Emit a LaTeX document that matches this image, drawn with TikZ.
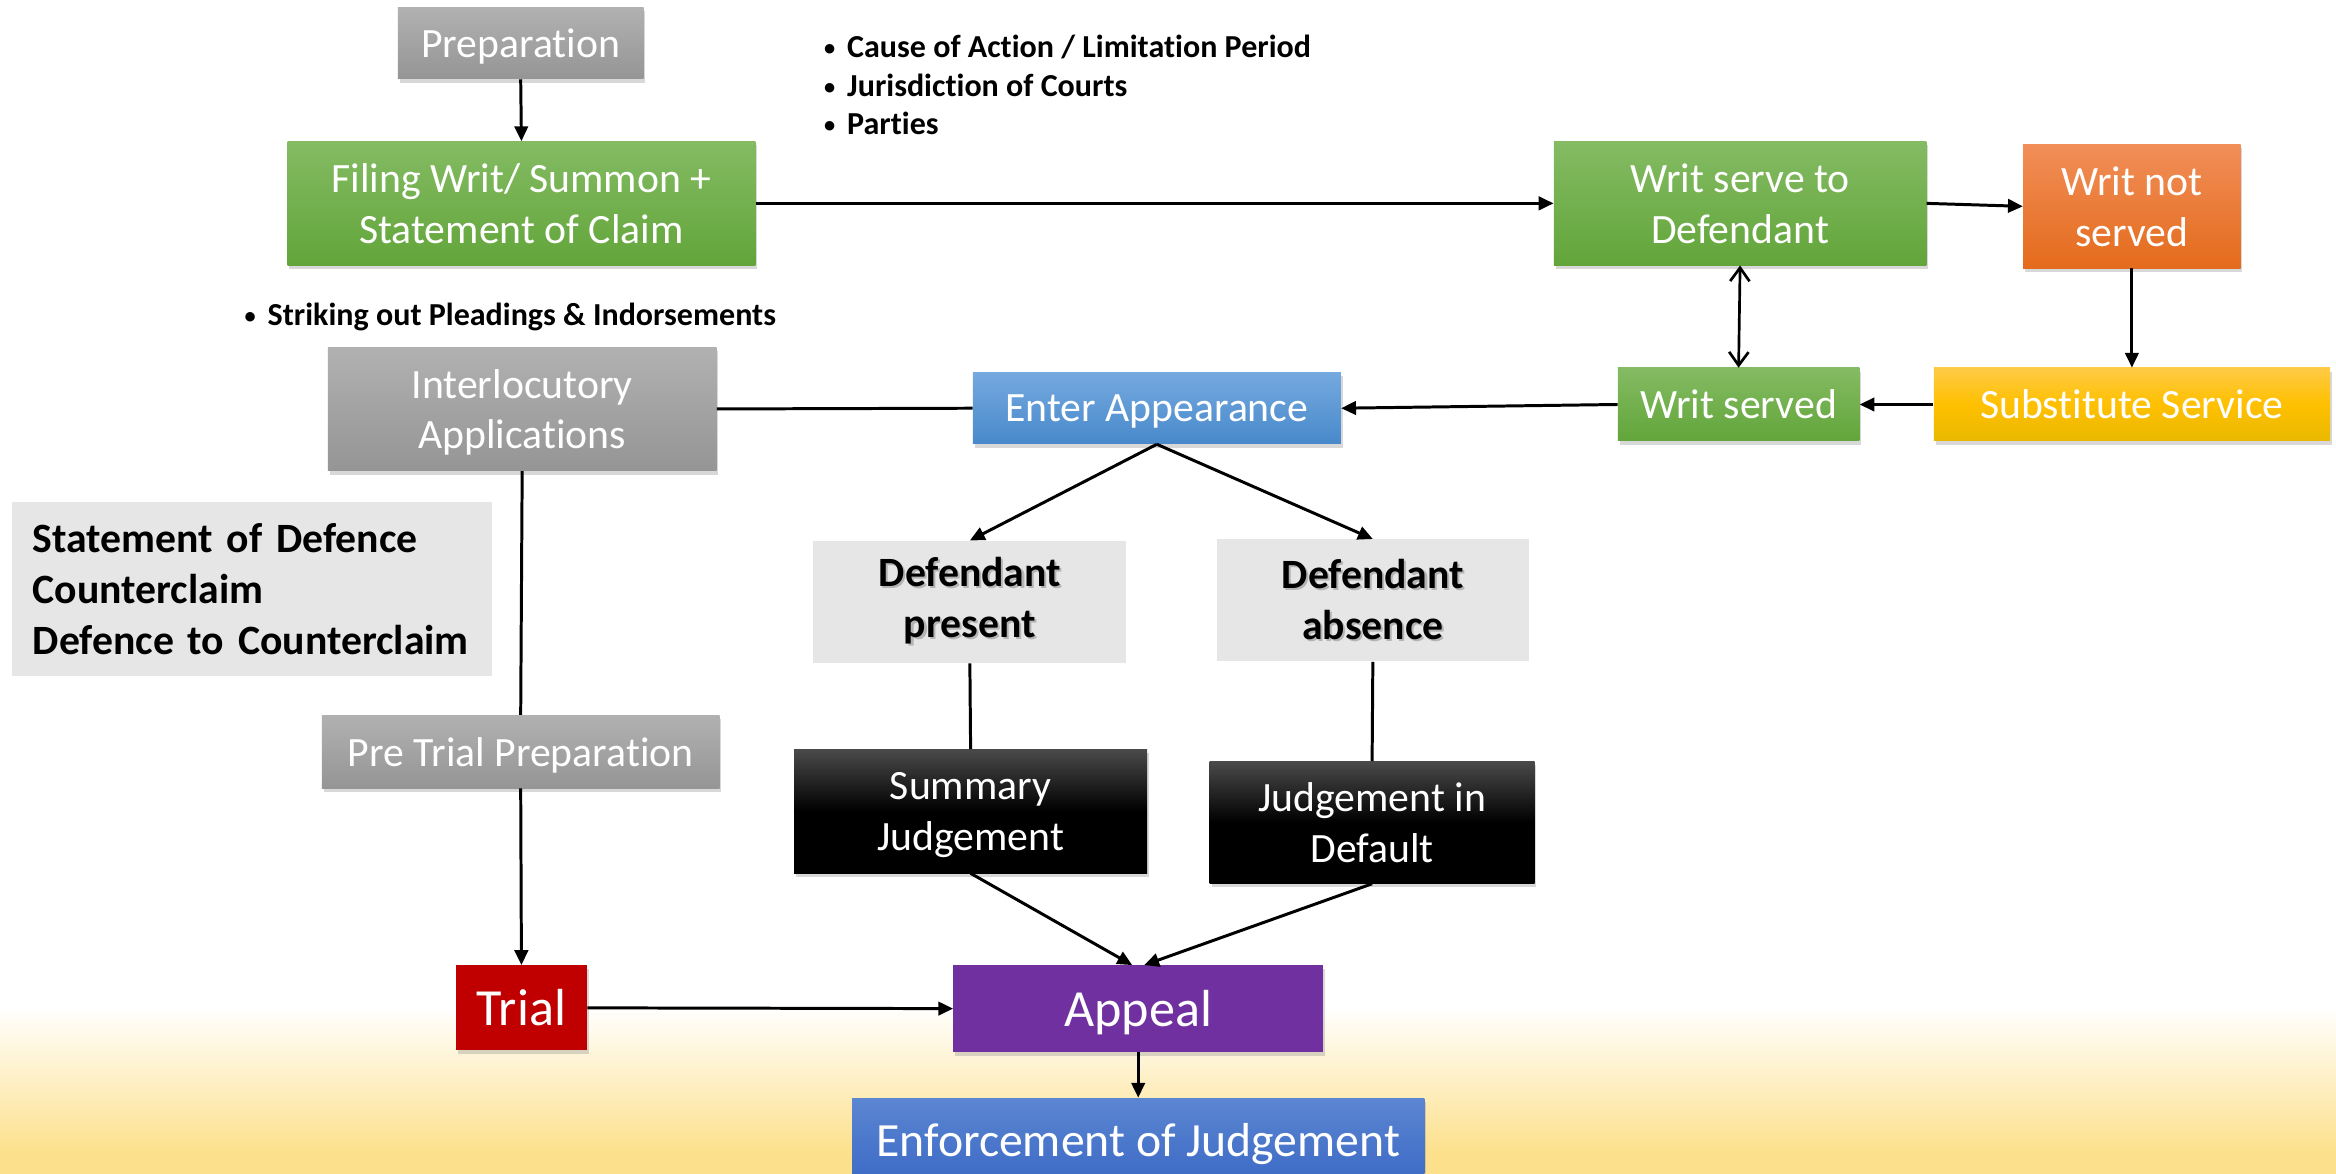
\documentclass[tikz,border=0pt]{standalone}
\usepackage{fontspec}
\setmainfont[Ligatures=NoCommon]{Carlito}
\usetikzlibrary{arrows.meta,shadows}

\definecolor{grayT}{HTML}{B1B1B1}
\definecolor{grayB}{HTML}{959595}
\definecolor{greenT}{HTML}{84BB63}
\definecolor{greenB}{HTML}{62A53A}
\definecolor{orangeT}{HTML}{F18E58}
\definecolor{orangeB}{HTML}{E46B1C}
\definecolor{yellowT}{HTML}{FFCA45}
\definecolor{yellowM}{HTML}{FFC000}
\definecolor{yellowB}{HTML}{E9B800}
\definecolor{blueT}{HTML}{75A9DF}
\definecolor{blueB}{HTML}{4889CB}
\definecolor{navyT}{HTML}{5C86D2}
\definecolor{navyB}{HTML}{3C6AC5}
\definecolor{blackT}{HTML}{4A4A4A}
\definecolor{trialred}{HTML}{C00000}
\definecolor{appealpurple}{HTML}{7030A0}
\definecolor{lightbox}{HTML}{E6E6E6}
\definecolor{sand}{HTML}{FDE08B}
\definecolor{textshade}{HTML}{B4B4B4}

\newcommand{\smallbul}{\raisebox{0.12ex}{\fontsize{15}{15}\selectfont\textbullet}\hspace{8pt}}
\newcommand{\shd}[1]{\makebox[0pt][l]{\hspace{1.4pt}\raisebox{-1.4pt}{\textcolor{textshade}{#1}}}#1}

\tikzset{
  box/.style={inner sep=0pt, align=center, text=white, text depth=0pt,
    font=\fontsize{28}{34}\selectfont,
    drop shadow={shadow xshift=1.2pt, shadow yshift=-2.5pt, opacity=0.3}},
  graybox/.style={box, top color=grayT, bottom color=grayB},
  greenbox/.style={box, top color=greenT, bottom color=greenB},
  orangebox/.style={box, top color=orangeT, bottom color=orangeB},
  yellowbox/.style={box, top color=yellowT, bottom color=yellowB, middle color=yellowM},
  bluebox/.style={box, top color=blueT, bottom color=blueB},
  navybox/.style={box, top color=navyT, bottom color=navyB, font=\fontsize{32}{38}\selectfont},
  blackbox/.style={box, top color=blackT, bottom color=black, middle color=black},
  solidbox/.style={box, font=\fontsize{35}{42}\selectfont},
  notebox/.style={inner sep=0pt, fill=lightbox, align=center, text=black,
    font=\bfseries\fontsize{28}{34}\selectfont},
  bullets/.style={inner sep=0pt, align=left, text=black,
    font=\bfseries\fontsize{21.5}{26}\selectfont},
  arr/.style={-{Triangle[length=10pt,width=9pt]}, line width=2pt},
  plain/.style={line width=2pt},
  dbl/.style={{Straight Barb[length=9pt,width=13pt,line width=1.8pt]}-{Straight Barb[length=9pt,width=13pt,line width=1.8pt]}, line width=1.8pt}
}

\begin{document}
\begin{tikzpicture}[x=1pt,y=-1pt]
\useasboundingbox (0,0) rectangle (1568,788);
% background
\fill[white] (0,0) rectangle (1568,676);
\shade[top color=white, bottom color=sand] (0,675) rectangle (1568,775);
\fill[sand] (0,774) rectangle (1568,788);

% nodes
\node[graybox, minimum width=165pt, minimum height=48pt] (prep) at (349.5,29) {Preparation};
\node[greenbox, minimum width=314pt, minimum height=83pt] (filing) at (350,136.5) {Filing Writ/ Summon +\\Statement of Claim};
\node[greenbox, minimum width=250pt, minimum height=83pt] (serve) at (1168,136.5) {Writ serve to\\Defendant};
\node[orangebox, minimum width=146pt, minimum height=83pt] (notserved) at (1431,138.5) {Writ not\\served};
\node[graybox, minimum width=261pt, minimum height=83pt] (interloc) at (350.5,274.5) {Interlocutory\\Applications};
\node[bluebox, minimum width=247pt, minimum height=48pt] (enter) at (776.5,274) {Enter Appearance};
\node[greenbox, minimum width=162pt, minimum height=49pt] (served) at (1167,271.5) {Writ served};
\node[yellowbox, minimum width=266pt, minimum height=49pt] (subst) at (1431,271.5) {Substitute Service};
\node[notebox, minimum width=322pt, minimum height=117pt, align=left, text width=294pt] (sod) at (169,395.5) {Statement of Defence\\Counterclaim\\Defence to Counterclaim};
\node[notebox, minimum width=210pt, minimum height=82pt] (dpresent) at (651,404) {\shd{Defendant}\\\shd{present}};
\node[notebox, minimum width=209pt, minimum height=82pt] (dabsence) at (921.5,403) {\shd{Defendant}\\\shd{absence}};
\node[graybox, minimum width=267pt, minimum height=49pt] (pretrial) at (349.5,504.5) {Pre Trial Preparation};
\node[blackbox, minimum width=237pt, minimum height=83pt] (summary) at (651.5,544.5) {Summary\\Judgement};
\node[blackbox, minimum width=218pt, minimum height=82pt] (default) at (921,552) {Judgement in\\Default};
\node[solidbox, fill=trialred, minimum width=88pt, minimum height=57pt] (trial) at (350,676.5) {Trial};
\node[solidbox, fill=appealpurple, minimum width=248pt, minimum height=58pt] (appeal) at (764,677) {Appeal};
\node[navybox, minimum width=384pt, minimum height=56pt] (enforce) at (764,765) {Enforcement of Judgement};

% notes
\node[bullets, anchor=west] (causes) at (553,57) {\smallbul Cause of Action / Limitation Period\\\smallbul Jurisdiction of Courts\\\smallbul Parties};
\node[bullets, anchor=west] (strike) at (164,213) {\smallbul Striking out Pleadings \& Indorsements};

% connectors
\draw[arr] (prep.south) -- (filing.north);
\draw[arr] (filing.east) -- (serve.west);
\draw[arr] (serve.east) -- (notserved.west);
\draw[arr] (notserved.south) -- (subst.north);
\draw[arr] (subst.west) -- (served.east);
\draw[dbl] (serve.south) -- (served.north);
\draw[arr] (served.west) -- (enter.east);
\draw[plain] (interloc.east) -- (enter.west);
\draw[plain] (interloc.south) -- (pretrial.north);
\draw[arr] (pretrial.south) -- (trial.north);
\draw[arr] (enter.south) -- (dpresent.north);
\draw[arr] (enter.south) -- (dabsence.north);
\draw[plain] (dpresent.south) -- (summary.north);
\draw[plain] (dabsence.south) -- (default.north);
\draw[arr] (summary.south) -- ([xshift=-4pt]appeal.north);
\draw[arr] (default.south) -- ([xshift=4pt]appeal.north);
\draw[arr] (trial.east) -- (appeal.west);
\draw[arr] (appeal.south) -- (enforce.north);
\end{tikzpicture}
\end{document}
